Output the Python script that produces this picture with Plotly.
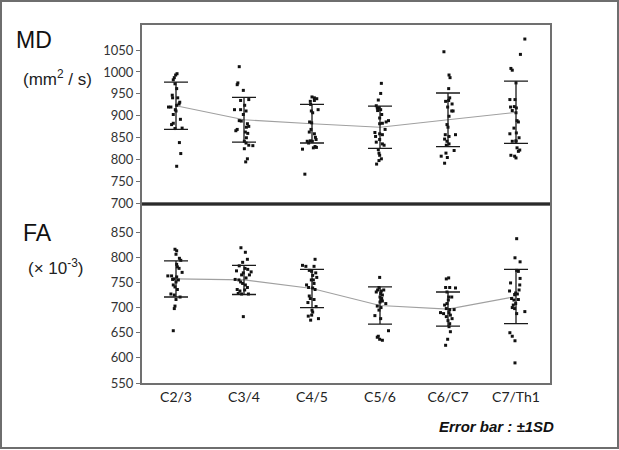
import plotly.graph_objects as go

# Spinal levels
categories = ['C2/3', 'C3/4', 'C4/5', 'C5/6', 'C6/C7', 'C7/Th1']

# MD (mm2/s): mean and SD per level
md_mean = [923, 891, 882, 874, 891, 908]
md_sd = [54, 51, 44, 48, 61, 71]

# FA (x10^-3): mean and SD per level
fa_mean = [757, 755, 738, 704, 697, 722]
fa_sd = [36, 29, 38, 37, 34, 54]

# individual MD values + horizontal jitter (category units)
md_c23 = [996, 993, 987, 982, 973, 962, 947, 941, 941, 931, 927, 920, 920, 924, 914, 911, 903, 892, 883, 880, 871, 872, 839, 814, 785]
md_c23_dx = [0.015, -0.005, -0.025, -0.04, -0.015, 0.01, -0.055, -0.05, 0.025, 0.055, 0.045, -0.11, -0.075, 0.01, -0.01, 0, -0.04, 0.065, -0.04, -0.065, -0.015, 0.09, 0.05, 0.07, 0.01]
md_c34 = [1012, 975, 971, 958, 935, 924, 937, 914, 914, 911, 903, 889, 888, 882, 874, 876, 869, 866, 860, 863, 850, 842, 838, 833, 832, 825, 802, 795]
md_c34_dx = [-0.07, -0.09, -0.1, -0.01, -0.05, 0.01, 0.07, -0.14, -0.05, 0.03, -0.01, -0.07, -0.04, 0.05, 0.035, 0.07, -0.1, -0.12, 0.055, 0.02, 0.035, 0.005, 0.03, 0.07, 0.13, 0.005, 0.05, 0.025]
md_c45 = [943, 941, 939, 933, 935, 926, 914, 911, 907, 886, 884, 869, 863, 859, 851, 846, 843, 842, 838, 830, 827, 824, 828, 767, 842]
md_c45_dx = [0, 0.035, 0.07, -0.025, 0.035, -0.02, 0.09, -0.01, 0.01, -0.035, -0.005, -0.015, -0.04, 0.035, 0.05, 0.06, -0.025, 0.005, -0.05, 0.045, 0.02, -0.14, 0.065, -0.105, -0.07]
md_c56 = [974, 951, 936, 923, 918, 914, 912, 903, 889, 886, 883, 882, 869, 862, 859, 853, 857, 846, 840, 836, 833, 823, 815, 810, 802, 798, 790, 918, 895]
md_c56_dx = [0.02, 0.01, -0.025, -0.055, -0.015, 0.01, -0.035, 0.025, 0.125, 0.09, 0.035, -0.005, 0.075, -0.075, -0.005, -0.065, 0.035, -0.005, -0.055, 0.035, 0.06, -0.025, -0.015, -0.005, 0.02, -0.015, -0.05, -0.04, -0.005]
md_c67 = [1046, 993, 987, 962, 933, 935, 927, 920, 911, 911, 899, 880, 874, 857, 857, 853, 847, 842, 836, 833, 821, 815, 808, 805, 792, 941]
md_c67_dx = [-0.06, 0.015, 0.03, 0.01, -0.035, 0.01, 0.06, -0.005, 0.055, 0.075, 0.015, -0.015, 0, -0.04, 0.11, 0.015, -0.05, -0.015, 0.015, -0.025, 0.09, -0.03, -0.1, -0.01, -0.05, 0.025]
md_c7t = [1075, 1040, 1008, 1004, 975, 937, 937, 920, 921, 918, 912, 907, 889, 886, 872, 859, 861, 850, 843, 842, 827, 822, 819, 810, 804, 808, 842]
md_c7t_dx = [0.13, 0.065, -0.075, -0.055, 0, -0.09, -0.015, -0.08, -0.025, 0.005, -0.055, 0, 0.015, 0.035, -0.03, -0.09, 0.005, 0.045, 0, -0.055, 0.015, 0.055, 0.035, -0.075, 0, -0.02, 0]

# individual FA values + jitter
fa_c23 = [816, 813, 806, 798, 794, 786, 781, 778, 770, 763, 763, 761, 757, 755, 751, 745, 741, 736, 727, 725, 721, 716, 703, 698, 654, 756]
fa_c23_dx = [-0.015, 0.01, 0, 0.05, 0.07, 0.01, 0.02, 0.045, 0.09, -0.12, -0.065, 0.01, -0.03, 0.035, 0, -0.04, -0.015, 0.02, -0.075, -0.025, 0.06, 0, -0.015, -0.025, -0.04, -0.05]
fa_c34 = [819, 810, 796, 790, 783, 778, 776, 771, 773, 769, 765, 765, 759, 756, 755, 751, 748, 745, 740, 736, 733, 728, 727, 727, 682, 735]
fa_c34_dx = [-0.045, 0.02, 0.05, -0.02, -0.07, 0.015, 0.055, 0.105, -0.11, -0.01, -0.035, 0.08, 0.03, -0.13, -0.075, -0.05, -0.02, 0.02, 0.05, -0.1, -0.06, -0.085, -0.035, 0.065, -0.01, 0.01]
fa_c45 = [796, 784, 782, 782, 774, 772, 769, 764, 760, 755, 748, 745, 740, 739, 736, 723, 718, 716, 710, 702, 695, 691, 685, 683, 675, 678, 755]
fa_c45_dx = [0.045, -0.14, -0.09, 0.03, -0.04, -0.005, 0.055, 0.01, 0.07, -0.01, 0.03, -0.08, -0.05, 0.01, 0.045, -0.04, -0.025, 0.03, -0.06, 0.06, 0, 0.01, -0.005, -0.055, -0.02, 0.095, 0.02]
fa_c56 = [760, 740, 735, 733, 731, 728, 725, 721, 718, 713, 711, 708, 703, 700, 695, 684, 678, 654, 641, 637, 635, 643, 716, 735]
fa_c56_dx = [-0.005, -0.015, -0.035, 0.02, -0.055, 0.01, 0.035, 0, 0.025, 0.035, 0, 0.085, -0.04, 0.015, -0.015, -0.075, 0.01, 0.125, -0.04, -0.005, 0.035, -0.025, 0.015, 0.055]
fa_c67 = [757, 759, 740, 740, 739, 731, 721, 721, 715, 708, 705, 698, 696, 696, 690, 688, 690, 685, 682, 678, 674, 668, 662, 652, 637, 625]
fa_c67_dx = [-0.025, 0.01, -0.035, 0.025, 0.11, -0.015, 0.01, 0.055, 0.005, -0.015, -0.05, -0.025, 0.025, 0.09, -0.11, -0.065, 0.015, 0.035, -0.025, 0.06, 0, 0.025, 0.015, 0.035, -0.005, -0.035]
fa_c7t = [837, 799, 791, 774, 772, 758, 749, 745, 733, 729, 727, 726, 718, 716, 705, 700, 698, 708, 692, 688, 650, 643, 634, 590, 715, 735]
fa_c7t_dx = [0.01, -0.015, 0.06, 0.01, 0.035, 0.06, -0.08, 0.055, -0.095, -0.005, 0.02, -0.02, -0.065, 0.035, -0.04, -0.055, -0.02, -0.005, 0.13, 0.01, -0.09, -0.055, -0.015, -0.015, -0.03, 0.045]

md_points = [(md_c23, md_c23_dx), (md_c34, md_c34_dx), (md_c45, md_c45_dx),
             (md_c56, md_c56_dx), (md_c67, md_c67_dx), (md_c7t, md_c7t_dx)]
fa_points = [(fa_c23, fa_c23_dx), (fa_c34, fa_c34_dx), (fa_c45, fa_c45_dx),
             (fa_c56, fa_c56_dx), (fa_c67, fa_c67_dx), (fa_c7t, fa_c7t_dx)]

W, H = 619, 450
ML, MR, MT, MB = 142, 69, 25, 67


def px_x(p):
    return (p - ML) / (W - ML - MR)


def px_y(p):
    return (H - MB - p) / (H - MT - MB)


fig = go.Figure()
pos = list(range(len(categories)))

for mean, sd, pts, xa, ya in [(md_mean, md_sd, md_points, 'x', 'y'),
                              (fa_mean, fa_sd, fa_points, 'x2', 'y2')]:
    # mean line
    fig.add_trace(go.Scatter(x=pos, y=mean, mode='lines', xaxis=xa, yaxis=ya,
                             line=dict(color='#a0a0a0', width=1.1)))
    # dots
    xs, ys = [], []
    for i, (vals, dx) in enumerate(pts):
        xs += [i + d for d in dx]
        ys += vals
    fig.add_trace(go.Scatter(x=xs, y=ys, mode='markers', xaxis=xa, yaxis=ya,
                             marker=dict(size=3, color='#111111', symbol='square')))
    # +-1SD error bars
    fig.add_trace(go.Scatter(x=pos, y=mean, mode='markers', xaxis=xa, yaxis=ya,
                             marker=dict(size=1, color='rgba(0,0,0,0)'),
                             error_y=dict(type='data', array=sd, visible=True,
                                          color='#1a1a1a', thickness=1.3, width=12)))

axis_line = dict(showline=True, linecolor='#707070', linewidth=2, mirror=True,
                 showgrid=False, zeroline=False)

fig.update_layout(
    width=W, height=H,
    margin=dict(l=ML, r=MR, t=MT, b=MB),
    paper_bgcolor='white', plot_bgcolor='white',
    showlegend=False,
    xaxis=dict(axis_line, domain=[0, 1], anchor='y', range=[-0.5, 5.5],
               showticklabels=False, ticks=''),
    yaxis=dict(axis_line, domain=[0.5, 1], anchor='x', range=[699, 1107],
               tickvals=[700, 750, 800, 850, 900, 950, 1000, 1050],
               ticks='outside', ticklen=4, tickcolor='#707070',
               tickfont=dict(family='Lato', size=13, color='#333333')),
    xaxis2=dict(axis_line, domain=[0, 1], anchor='y2', range=[-0.5, 5.5],
                tickvals=pos, ticktext=categories, ticks='',
                tickfont=dict(family='Lato', size=14, color='#222222')),
    yaxis2=dict(axis_line, domain=[0, 0.5], anchor='x2', range=[550, 906],
                tickvals=[550, 600, 650, 700, 750, 800, 850],
                ticks='outside', ticklen=4, tickcolor='#707070',
                tickfont=dict(family='Lato', size=13, color='#333333')),
)

# outer frame and the divider between the panels
fig.add_shape(type='rect', xref='paper', yref='paper',
              x0=px_x(1), x1=px_x(618), y0=px_y(448), y1=px_y(1),
              line=dict(color='#6e6e6e', width=2))
fig.add_shape(type='line', xref='paper', yref='paper', x0=0, x1=1, y0=0.5, y1=0.5,
              line=dict(color='#2a2a2a', width=2))

labels = [
    ('MD', 14, 40, 23, 'Liberation Sans', '#111111'),
    ('(mm<sup>2</sup> / s)', 21, 78, 17, 'Liberation Sans', '#222222'),
    ('FA', 21, 233, 23, 'Liberation Sans', '#111111'),
    ('(× 10<sup>-3</sup>)', 26, 267, 17, 'Liberation Sans', '#222222'),
]
for text, x, y, size, fam, col in labels:
    fig.add_annotation(text=text, xref='paper', yref='paper', x=px_x(x), y=px_y(y),
                       xanchor='left', yanchor='middle', showarrow=False,
                       font=dict(family=fam, size=size, color=col))

fig.add_annotation(text='<b><i>Error bar : ±1SD</i></b>', xref='paper', yref='paper',
                   x=px_x(556), y=px_y(426), xanchor='right', yanchor='middle',
                   showarrow=False,
                   font=dict(family='Liberation Sans', size=15, color='#111111'))

# drop the default page margin so the figure sits at the window's corner
fig.write_html("out.html", config={'displayModeBar': False},
               post_script="document.body.style.margin='0';")
